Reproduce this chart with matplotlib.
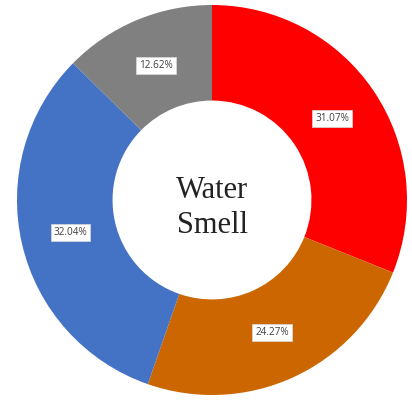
import matplotlib
matplotlib.use("Agg")
import matplotlib.pyplot as plt
import numpy as np

categories = ["Red", "Orange", "Blue", "Grey"]
values = [31.07, 24.27, 32.04, 12.62]
labels = ["31.07%", "24.27%", "32.04%", "12.62%"]
colors = ["#FF0000", "#CC6600", "#4472C4", "#808080"]

fig = plt.figure(figsize=(4.12, 4.0), dpi=100)
ax = fig.add_axes([0, 0, 1, 1])
ax.axis("off")

wedges, _ = ax.pie(values, colors=colors, startangle=90, counterclock=False,
                   radius=1.0, wedgeprops=dict(width=0.49, linewidth=0))

# percentage labels in the middle of the ring
ang = 90.0
for v, lab in zip(values, labels):
    mid = np.deg2rad(ang - v * 360 / 100 / 2)
    ang -= v * 360 / 100
    ax.text(0.745 * np.cos(mid), 0.745 * np.sin(mid), lab, ha="center", va="center",
            fontsize=7.2, family="Open Sans", color="#404040",
            bbox=dict(boxstyle="square,pad=0.3", fc="white", ec="#d9d9d9", lw=0.5))

ax.text(0.0, -0.04, "Water\nSmell", ha="center", va="center", fontsize=22,
        family="Liberation Serif", color="#222222", linespacing=1.3)

ax.set_xlim(-212 / 195, 200 / 195)
ax.set_ylim(-200 / 195, 200 / 195)
fig.savefig("out.png", dpi=100)
